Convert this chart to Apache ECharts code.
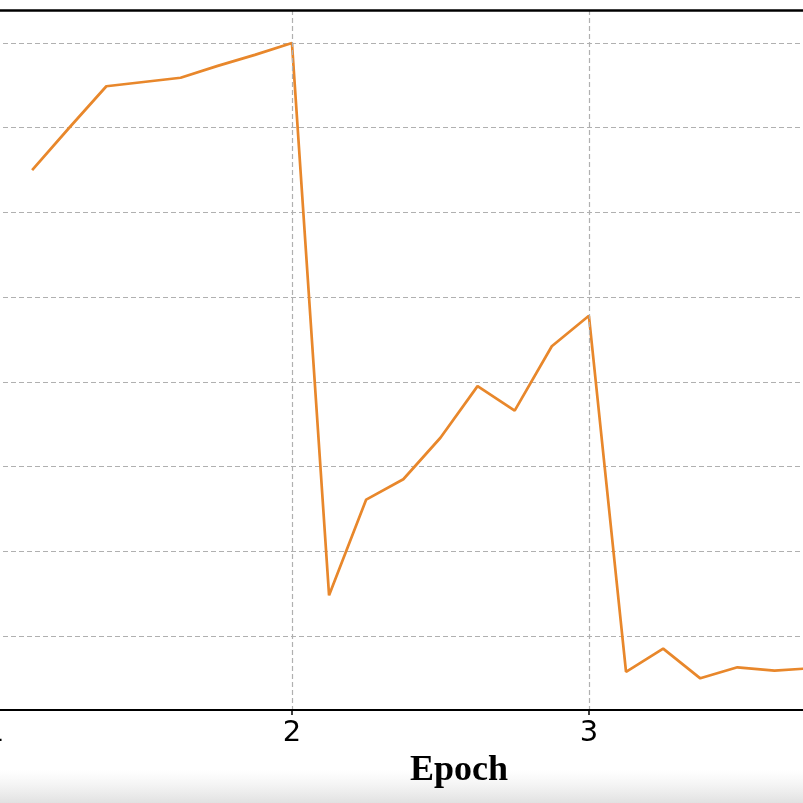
<!DOCTYPE html>
<html>
<head>
<meta charset="utf-8">
<script src="https://cdn.jsdelivr.net/npm/echarts@6/dist/echarts.min.js"></script>
<style>html,body{margin:0;padding:0;background:#fff;}#chart{width:803px;height:803px;}</style>
</head>
<body>
<div id="chart"></div>
<script>
// Data (epoch position, metric value in gridline units)
const epochs = [1.125, 1.25, 1.375, 1.5, 1.625, 1.75, 1.875, 2.0,
                2.125, 2.25, 2.375, 2.5, 2.625, 2.75, 2.875, 3.0,
                3.125, 3.25, 3.375, 3.5, 3.625, 3.75];
const values = [6.50, 7.00, 7.49, 7.54, 7.59, 7.73, 7.86, 8.00,
                1.48, 2.61, 2.85, 3.34, 3.95, 3.66, 4.42, 4.78,
                0.575, 0.85, 0.50, 0.63, 0.59, 0.62];
const xTicks = [1, 2, 3, 4];
const xName = 'Epoch';

const chart = echarts.init(document.getElementById('chart'), null, {renderer: 'canvas'});
const gridColor = '#b0b0b0';
chart.setOption({
  animation: false,
  backgroundColor: '#ffffff',
  graphic: [{
    type: 'rect', z: -10, silent: true,
    shape: {x: 0, y: 770, width: 803, height: 33},
    style: {fill: new echarts.graphic.LinearGradient(0, 0, 0, 1, [
      {offset: 0, color: 'rgba(235,235,235,0)'},
      {offset: 1, color: 'rgba(225,225,225,1)'}
    ])}
  }],
  grid: {
    left: -5, top: 10, width: 928, height: 700,
    outerBoundsMode: 'none',
    show: false, containLabel: false
  },
  xAxis: [{
    type: 'value', min: 1, max: 4.125, interval: 1,
    name: xName, nameLocation: 'middle', nameGap: 40,
    nameTextStyle: {fontFamily: 'Liberation Serif', fontWeight: 'bold', fontSize: 36, color: '#000'},
    axisLine: {show: true, onZero: false, lineStyle: {color: '#000', width: 2}},
    axisTick: {show: true, length: 5, lineStyle: {color: '#000', width: 1.5}},
    axisLabel: {show: true, margin: 9, fontFamily: 'DejaVu Sans', fontSize: 29, color: '#000',
      showMinLabel: true, showMaxLabel: false,
      formatter: v => xTicks.includes(v) ? String(v) : ''},
    splitLine: {show: true, lineStyle: {color: gridColor, type: [5, 3], width: 1.2}},
    z: 5
  }, {
    type: 'value', position: 'top', min: 1, max: 4.125, interval: 1,
    axisLine: {show: true, onZero: false, lineStyle: {color: '#000', width: 2.6}},
    axisTick: {show: false}, axisLabel: {show: false}, splitLine: {show: false},
    z: 5
  }],
  yAxis: {
    type: 'value', min: 0.126, max: 8.39, splitNumber: 8,
    axisLine: {show: false}, axisTick: {show: false}, axisLabel: {show: false},
    splitLine: {show: true, lineStyle: {color: gridColor, type: [5, 3], width: 1.2}}
  },
  series: [{
    type: 'line',
    data: epochs.map((e, i) => [e, values[i]]),
    showSymbol: false, symbol: 'none',
    lineStyle: {color: '#E8872B', width: 2.7},
    clip: true
  }]
});
</script>
</body>
</html>
